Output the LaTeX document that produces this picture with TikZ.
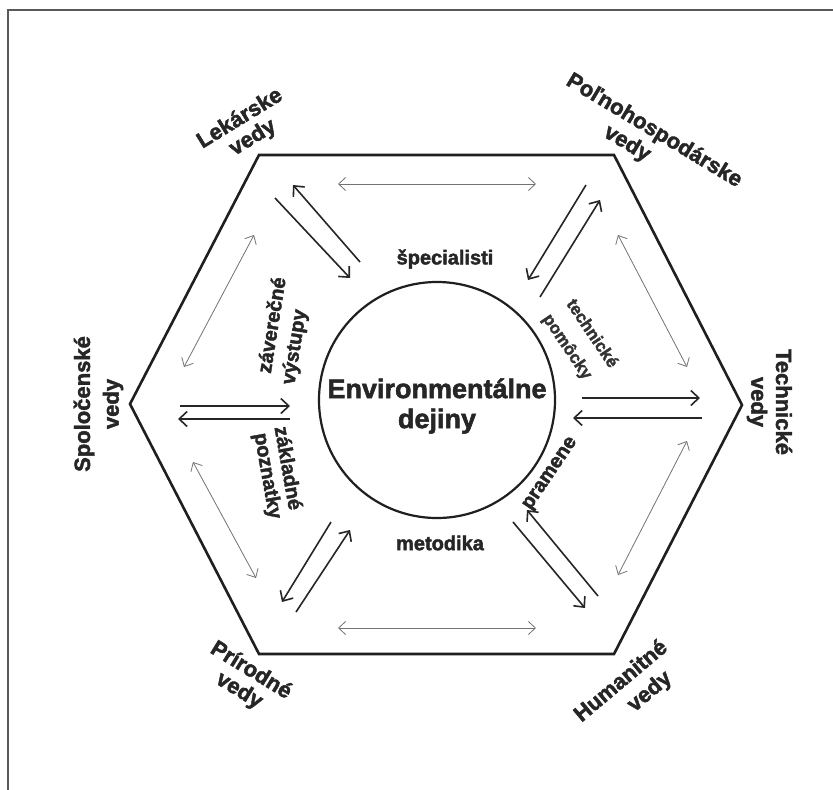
\documentclass[tikz,border=0pt]{standalone}
\usepackage{fontspec}
\setmainfont{Liberation Sans}[BoldFeatures={FakeBold=2}]
\usetikzlibrary{arrows.meta}
\begin{document}
\begin{tikzpicture}[x=1pt,y=-1pt,
  hexline/.style={line width=2.6pt, draw=black!88, line join=miter},
  ringline/.style={draw=black!88, line width=2.2pt, circle, minimum size=236pt, inner sep=0pt},
  flow/.style={line width=1.6pt, draw=black!85, -{Straight Barb[length=8pt,width=15pt,line width=1.6pt]}},
  link/.style={line width=0.8pt, draw=black!55, {Straight Barb[length=7pt,width=13pt]}-{Straight Barb[length=7pt,width=13pt]}},
  fieldtxt/.style={font=\bfseries\fontsize{22}{25}\selectfont, text=black!85, inner sep=0pt},
  roletxt/.style={font=\bfseries\fontsize{20}{23}\selectfont, text=black!85, inner sep=0pt},
  smalltxt/.style={font=\bfseries\fontsize{17}{20}\selectfont, text=black!80, inner sep=0pt},
  centertxt/.style={font=\bfseries\fontsize{27}{30}\selectfont, text=black!85, align=center, inner sep=0pt},
  framel/.style={line width=1.2pt, draw=black!65}]
\useasboundingbox[fill=white] (0,0) rectangle (833,790);
% frame
\coordinate (fa) at (8,790);
\coordinate (fb) at (8,10);
\coordinate (fc) at (833,10);
\draw[framel] (fa) -- (fb) -- (fc);
% hexagon
\coordinate (h1) at (130,404);
\coordinate (h2) at (259,155);
\coordinate (h3) at (614,155);
\coordinate (h4) at (742,405);
\coordinate (h5) at (614,654);
\coordinate (h6) at (259,654);
\draw[hexline] (h1) -- (h2) -- (h3) -- (h4) -- (h5) -- (h6) -- cycle;
% circle
\node[ringline] (ring) at (437,400) {};
\node[centertxt] (ed) at (437,406) {Environmentálne\\dejiny};
% thin links along edges
\coordinate (t1a) at (338,184); \coordinate (t1b) at (536,184);
\coordinate (t2a) at (618,235); \coordinate (t2b) at (687,367);
\coordinate (t3a) at (687,441); \coordinate (t3b) at (618,575);
\coordinate (t4a) at (338,628); \coordinate (t4b) at (536,628);
\coordinate (t5a) at (256,578); \coordinate (t5b) at (193,462);
\coordinate (t6a) at (184,367); \coordinate (t6b) at (254,235);
\draw[link] (t1a) -- (t1b);
\draw[link] (t2a) -- (t2b);
\draw[link] (t3a) -- (t3b);
\draw[link] (t4a) -- (t4b);
\draw[link] (t5a) -- (t5b);
\draw[link] (t6a) -- (t6b);
% thick flows
\coordinate (a1) at (275,198); \coordinate (a2) at (350,278);
\coordinate (b1) at (360,262); \coordinate (b2) at (293,185);
\coordinate (c1) at (586,185); \coordinate (c2) at (528,280);
\coordinate (d1) at (540,297); \coordinate (d2) at (600,200);
\coordinate (e1) at (582,398); \coordinate (e2) at (700,398);
\coordinate (f1) at (702,418); \coordinate (f2) at (573,418);
\coordinate (l1) at (180,406); \coordinate (l2) at (290,406);
\coordinate (m1) at (290,419); \coordinate (m2) at (178,419);
\coordinate (g1) at (331,522); \coordinate (g2) at (282,602);
\coordinate (k1) at (296,612); \coordinate (k2) at (350,530);
\coordinate (i1) at (513,522); \coordinate (i2) at (585,608);
\coordinate (j1) at (598,596); \coordinate (j2) at (527,510);
\draw[flow] (a1) -- (a2);
\draw[flow] (b1) -- (b2);
\draw[flow] (c1) -- (c2);
\draw[flow] (d1) -- (d2);
\draw[flow] (e1) -- (e2);
\draw[flow] (f1) -- (f2);
\draw[flow] (l1) -- (l2);
\draw[flow] (m1) -- (m2);
\draw[flow] (g1) -- (g2);
\draw[flow] (k1) -- (k2);
\draw[flow] (i1) -- (i2);
\draw[flow] (j1) -- (j2);
% outer field labels
\node[fieldtxt, rotate=31.5] (lek1) at (239,117) {Lekárske};
\node[fieldtxt, rotate=31.5] (lek2) at (253,138) {vedy};
\node[fieldtxt, rotate=-31] (pol1) at (654,131) {Poľnohospodárske};
\node[fieldtxt, rotate=-31] (pol2) at (627,144) {vedy};
\node[fieldtxt, rotate=-90] (tec1) at (784,402) {Technické};
\node[fieldtxt, rotate=-90] (tec2) at (757,402) {vedy};
\node[fieldtxt, rotate=40] (hum1) at (620,680) {Humanitné};
\node[fieldtxt, rotate=40] (hum2) at (650,692) {vedy};
\node[fieldtxt, rotate=-31.5] (pri1) at (252,669) {Prírodné};
\node[fieldtxt, rotate=-31.5] (pri2) at (239,691) {vedy};
\node[fieldtxt, rotate=90] (spo1) at (84,404) {Spoločenské};
\node[fieldtxt, rotate=90] (spo2) at (113,404) {vedy};
% inner role labels
\node[roletxt] (spec) at (445,259) {špecialisti};
\node[roletxt] (meto) at (440,543) {metodika};
\node[roletxt, rotate=81] (zav1) at (271,325) {záverečné};
\node[roletxt, rotate=81] (zav2) at (295,347) {výstupy};
\node[roletxt, rotate=-80] (zak1) at (289,468) {základné};
\node[roletxt, rotate=-80] (zak2) at (267,476) {poznatky};
\node[smalltxt, rotate=-56] (tch1) at (593,333) {technické};
\node[smalltxt, rotate=-56] (tch2) at (567,347) {pomôcky};
\node[roletxt, rotate=56] (pram) at (551,474) {pramene};
\end{tikzpicture}
\end{document}
